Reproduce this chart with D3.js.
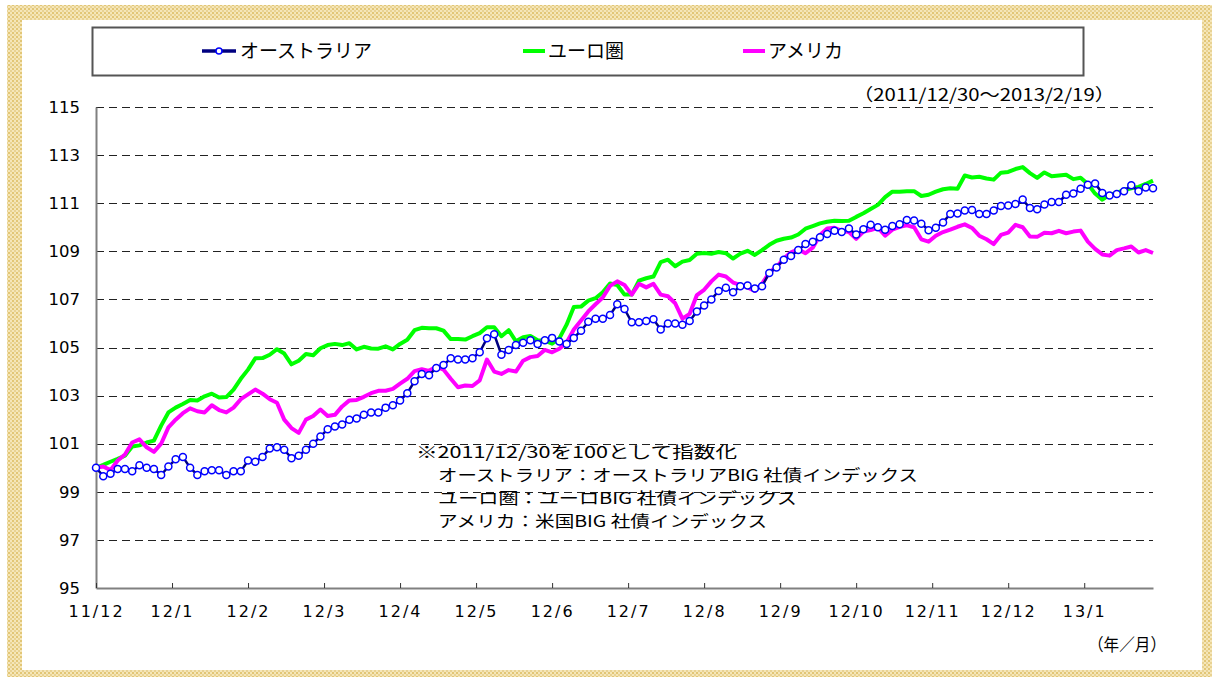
<!DOCTYPE html>
<html>
<head>
<meta charset="utf-8">
<script src="https://cdn.jsdelivr.net/npm/d3@7"></script>
<style>
  body { margin: 0; background: #fff; }
  svg { display: block; }
</style>
</head>
<body>
<svg id="chart" width="1212" height="677"></svg>
<script>
// values every 2nd business day from 2011/12/30 (index 0 = 100)
const australia = [
  100.0, 99.65, 99.75, 99.95, 99.95, 99.85, 100.1, 100.0, 99.95, 99.7,
  100.05, 100.35, 100.45, 100.0, 99.7, 99.85, 99.9, 99.9, 99.7, 99.85,
  99.85, 100.3, 100.25, 100.45, 100.8, 100.85, 100.75, 100.4, 100.5, 100.75,
  101.0, 101.3, 101.6, 101.72, 101.8, 102.0, 102.05, 102.2, 102.3, 102.3,
  102.5, 102.6, 102.8, 103.1, 103.6, 103.9, 103.85, 104.15, 104.27, 104.55,
  104.5, 104.5, 104.55, 104.8, 105.38, 105.55, 104.7, 104.9, 105.1, 105.2,
  105.3, 105.15, 105.3, 105.4, 105.25, 105.15, 105.4, 105.7, 106.07, 106.2,
  106.2, 106.35, 106.8, 106.6, 106.05, 106.05, 106.1, 106.17, 105.75, 106.0,
  106.0, 105.95, 106.1, 106.5, 106.75, 107.0, 107.35, 107.48, 107.3, 107.55,
  107.58, 107.45, 107.55, 108.1, 108.33, 108.65, 108.8, 109.05, 109.3, 109.4,
  109.58, 109.72, 109.85, 109.8, 109.95, 109.7, 109.92, 110.1, 110.0, 109.9,
  110.05, 110.12, 110.3, 110.28, 110.15, 109.88, 109.98, 110.2, 110.55, 110.57,
  110.7, 110.72, 110.55, 110.55, 110.7, 110.88, 110.9, 110.97, 111.15, 110.8,
  110.75, 110.95, 111.05, 111.05, 111.35, 111.4, 111.6, 111.77, 111.82, 111.42,
  111.32, 111.38, 111.5, 111.75, 111.5, 111.65, 111.62
];
const euro = [
  100.0, 100.12, 100.25, 100.37, 100.5, 100.88, 100.93, 101.05, 101.13, 101.75,
  102.3, 102.5, 102.65, 102.82, 102.8, 102.97, 103.08, 102.92, 102.94, 103.25,
  103.7, 104.08, 104.55, 104.56, 104.7, 104.93, 104.75, 104.3, 104.45, 104.73,
  104.68, 104.97, 105.1, 105.15, 105.1, 105.18, 104.92, 105.03, 104.96, 104.95,
  105.05, 104.92, 105.15, 105.32, 105.72, 105.82, 105.8, 105.8, 105.7, 105.35,
  105.35, 105.33, 105.47, 105.6, 105.84, 105.84, 105.47, 105.72, 105.26, 105.43,
  105.48, 105.3, 105.28, 105.16, 105.38, 105.95, 106.68, 106.7, 106.95, 107.05,
  107.3, 107.66, 107.6, 107.2, 107.2, 107.78, 107.88, 107.95, 108.55, 108.65,
  108.38, 108.57, 108.64, 108.9, 108.93, 108.9, 108.97, 108.92, 108.7, 108.9,
  109.02, 108.85, 109.05, 109.27, 109.44, 109.52, 109.57, 109.7, 109.94, 110.05,
  110.16, 110.23, 110.27, 110.26, 110.27, 110.43, 110.58, 110.76, 110.93, 111.25,
  111.48, 111.48, 111.5, 111.5, 111.3, 111.35, 111.48, 111.58, 111.62, 111.6,
  112.15, 112.07, 112.1, 112.03, 111.98, 112.27, 112.3, 112.42, 112.5, 112.25,
  112.05, 112.28, 112.12, 112.15, 112.18, 112.0, 112.06, 111.8, 111.4, 111.15,
  111.35, 111.43, 111.55, 111.62, 111.68, 111.8, 111.94
];
const america = [
  100.0, 100.05, 99.9, 100.3, 100.55, 101.05, 101.18, 100.85, 100.66, 101.0,
  101.68, 102.0, 102.27, 102.47, 102.35, 102.3, 102.6, 102.4, 102.3, 102.5,
  102.85, 103.05, 103.25, 103.08, 102.85, 102.7, 102.0, 101.65, 101.45, 102.0,
  102.15, 102.42, 102.15, 102.2, 102.55, 102.8, 102.82, 102.95, 103.1, 103.2,
  103.2, 103.28, 103.5, 103.7, 104.02, 104.1, 104.03, 104.2, 104.08, 103.7,
  103.35, 103.42, 103.4, 103.63, 104.5, 104.0, 103.9, 104.06, 104.0, 104.45,
  104.6, 104.65, 104.9, 104.8, 104.95, 105.2, 105.75, 106.12, 106.5, 106.8,
  107.08, 107.56, 107.75, 107.6, 107.2, 107.65, 107.5, 107.65, 107.2, 107.13,
  106.84, 106.2, 106.4, 107.18, 107.4, 107.75, 108.03, 107.95, 107.7, 107.6,
  107.5, 107.35, 107.65, 108.12, 108.35, 108.7, 108.96, 109.08, 108.92, 109.15,
  109.68, 109.95, 109.98, 109.85, 109.8, 109.52, 109.82, 109.88, 109.98, 109.65,
  109.9, 110.02, 110.08, 110.0, 109.5, 109.4, 109.65, 109.8, 109.9, 110.02,
  110.12, 109.97, 109.65, 109.5, 109.3, 109.68, 109.78, 110.1, 110.0, 109.62,
  109.6, 109.77, 109.75, 109.85, 109.75, 109.82, 109.86, 109.4, 109.1, 108.87,
  108.82, 109.05, 109.12, 109.2, 108.95, 109.05, 108.93
];
const xTickLabels = ["11/12", "12/1", "12/2", "12/3", "12/4", "12/5", "12/6",
  "12/7", "12/8", "12/9", "12/10", "12/11", "12/12", "13/1"];
const yTicks = [95, 97, 99, 101, 103, 105, 107, 109, 111, 113, 115];
const seriesNames = ["オーストラリア", "ユーロ圏", "アメリカ"];
const noteLines = [
  "※2011/12/30を100として指数化",
  "オーストラリア：オーストラリアBIG 社債インデックス",
  "ユーロ圏：ユーロBIG 社債インデックス",
  "アメリカ：米国BIG 社債インデックス"
];
const periodLabel = "（2011/12/30～2013/2/19）";
const unitLabel = "（年／月）";
const dayStep = 2;      // business days between stored points
const tickEvery = 21;   // business days between month labels
const lastDay = 292;

const svg = d3.select("#chart");
const jp = "'Noto Sans CJK JP', 'Noto Sans', sans-serif";
const num = "'DejaVu Sans', sans-serif";

// patterned frame
const defs = svg.append("defs");
const pat = defs.append("pattern").attr("id", "weave")
  .attr("width", 4).attr("height", 4).attr("patternUnits", "userSpaceOnUse");
pat.append("rect").attr("width", 4).attr("height", 4).attr("fill", "#f5e6b8");
pat.append("rect").attr("width", 2).attr("height", 2).attr("fill", "#e2c676");
pat.append("rect").attr("x", 2).attr("y", 2).attr("width", 2).attr("height", 2).attr("fill", "#e8d293");
svg.append("rect").attr("x", 7).attr("y", 5).attr("width", 1205).attr("height", 672).attr("fill", "url(#weave)");
svg.append("rect").attr("x", 22).attr("y", 20).attr("width", 1180).attr("height", 650).attr("fill", "#fff");

const x = d3.scaleLinear().domain([0, lastDay]).range([96, 1153]);
const y = d3.scaleLinear().domain([95, 115]).range([588, 107]);

// grid
svg.append("g").selectAll("line").data(yTicks.slice(1)).join("line")
  .attr("x1", 96).attr("x2", 1153)
  .attr("y1", d => Math.round(y(d)) + 0.5).attr("y2", d => Math.round(y(d)) + 0.5)
  .attr("stroke", "#222").attr("stroke-width", 1).attr("stroke-dasharray", "8,5");

// y axis
const yAxis = svg.append("g").attr("transform", "translate(96,0)")
  .call(d3.axisLeft(y).tickValues(yTicks).tickSize(0).tickPadding(16));
yAxis.select(".domain").attr("stroke", "#808080").attr("stroke-width", 2);
yAxis.selectAll("text").attr("font-family", num).attr("font-size", 16.5).attr("fill", "#000");

// x axis
const xTicks = xTickLabels.map((_, i) => i * tickEvery);
const xAxis = svg.append("g").attr("transform", "translate(0,588)")
  .call(d3.axisBottom(x).tickValues(xTicks).tickFormat((d, i) => xTickLabels[i])
    .tickSizeInner(-5).tickSizeOuter(0).tickPadding(18));
xAxis.select(".domain").attr("stroke", "#808080").attr("stroke-width", 2);
xAxis.selectAll(".tick line").attr("stroke", "#333");
xAxis.selectAll("text").attr("font-family", num).attr("font-size", 16)
  .attr("letter-spacing", 2).attr("fill", "#000");

// series
const line = d3.line().x((d, i) => x(i * dayStep)).y(d => y(d));
svg.append("path").datum(euro).attr("d", line)
  .attr("fill", "none").attr("stroke", "#00ff00").attr("stroke-width", 4).attr("stroke-linejoin", "round");
svg.append("path").datum(america).attr("d", line)
  .attr("fill", "none").attr("stroke", "#ff00ff").attr("stroke-width", 4).attr("stroke-linejoin", "round");
svg.append("path").datum(australia).attr("d", line)
  .attr("fill", "none").attr("stroke", "#000080").attr("stroke-width", 2.5);
svg.append("g").selectAll("circle").data(australia).join("circle")
  .attr("cx", (d, i) => x(i * dayStep)).attr("cy", d => y(d)).attr("r", 3.5)
  .attr("fill", "#fff").attr("stroke", "#0000ff").attr("stroke-width", 1.5);

// legend
svg.append("rect").attr("x", 92.5).attr("y", 27.5).attr("width", 991).attr("height", 48)
  .attr("fill", "#fff").attr("stroke", "#555").attr("stroke-width", 2);
const legendColors = ["#000080", "#00ff00", "#ff00ff"];
const legendX = [202, 523, 743];
const lg = svg.append("g").selectAll("g").data(seriesNames).join("g")
  .attr("transform", (d, i) => `translate(${legendX[i]},51)`);
lg.append("line").attr("x1", 0).attr("x2", (d, i) => i === 0 ? 34 : 22)
  .attr("stroke", (d, i) => legendColors[i]).attr("stroke-width", (d, i) => i === 0 ? 3.5 : 4);
lg.filter((d, i) => i === 0).append("circle").attr("cx", 17).attr("r", 3)
  .attr("fill", "#fff").attr("stroke", "#0000ff").attr("stroke-width", 1.5);
lg.append("text").attr("x", (d, i) => i === 0 ? 38 : 25).attr("dy", "0.36em")
  .attr("font-family", jp).attr("font-size", 19).text(d => d);

// texts
svg.append("text").attr("x", 853).attr("y", 101)
  .attr("font-family", jp).attr("font-size", 17)
  .attr("textLength", 262).attr("lengthAdjust", "spacingAndGlyphs").text(periodLabel);
svg.append("text").attr("x", 1088).attr("y", 651)
  .attr("font-family", jp).attr("font-size", 17)
  .attr("textLength", 78).attr("lengthAdjust", "spacingAndGlyphs").text(unitLabel);
const noteWidths = [321, 480, 359, 329];
svg.append("g").selectAll("text").data(noteLines).join("text")
  .attr("x", (d, i) => i === 0 ? 416 : 438).attr("y", (d, i) => 458 + i * 23)
  .attr("font-family", jp).attr("font-size", 15.8)
  .attr("textLength", (d, i) => noteWidths[i]).attr("lengthAdjust", "spacingAndGlyphs")
  .text(d => d);
</script>
</body>
</html>
